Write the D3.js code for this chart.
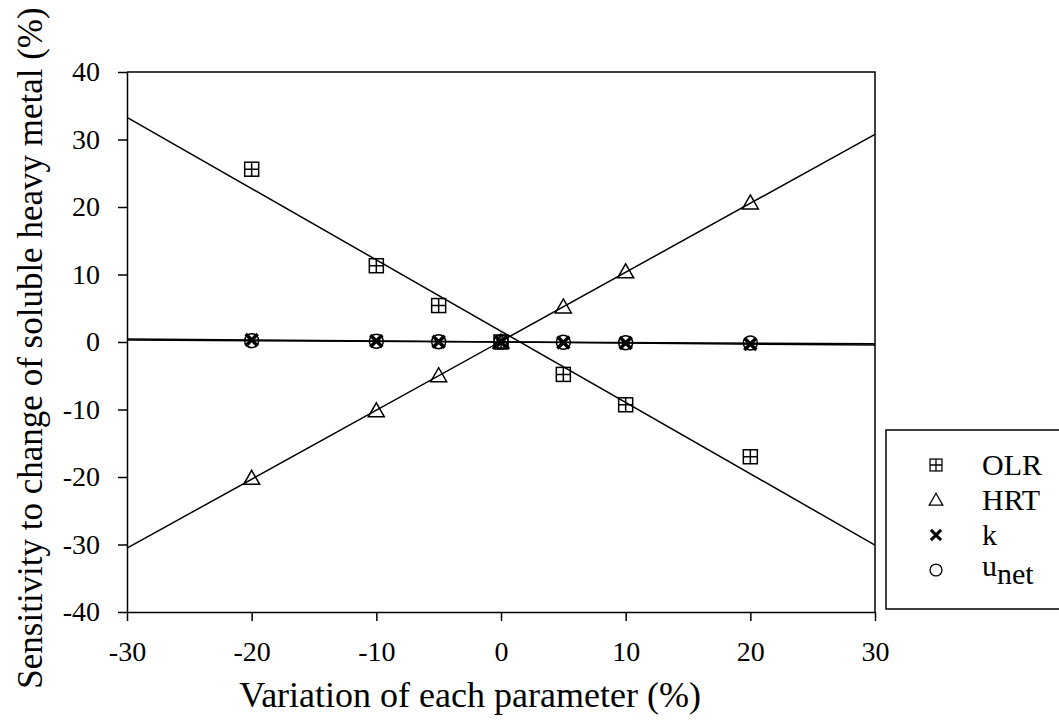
<!DOCTYPE html>
<html>
<head>
<meta charset="utf-8">
<script src="https://cdn.jsdelivr.net/npm/d3@7"></script>
<style>
  body { margin: 0; background: #fff; }
  svg { font-family: "Liberation Serif", "Times New Roman", serif; }
</style>
</head>
<body>
<svg width="1059" height="727"></svg>
<script>
// data
var variation = [-20, -10, -5, 0, 5, 10, 20];
var olr = [25.6, 11.3, 5.4, 0, -4.8, -9.3, -17.0];
var hrt = [-20.2, -10.2, -5.0, 0, 5.2, 10.4, 20.6];
var kVals = [0.3, 0.15, 0.05, 0, -0.08, -0.15, -0.3];
var unet = [0.2, 0.1, 0.05, 0, -0.05, -0.1, -0.15];
var xTicks = [-30, -20, -10, 0, 10, 20, 30];
var yTicks = [-40, -30, -20, -10, 0, 10, 20, 30, 40];

var svg = d3.select('svg');
var plotL = 127, plotR = 875, plotT = 72, plotB = 612;

var x = d3.scaleLinear().domain([-30, 30]).range([plotL, plotR]);
var y = d3.scaleLinear().domain([-40, 40]).range([plotB, plotT]);

// frame (top + right)
svg.append('path')
    .attr('d', 'M' + plotL + ',' + plotT + 'H' + plotR + 'V' + plotB)
    .attr('fill', 'none')
    .attr('stroke', '#000')
    .attr('stroke-width', 1.5);

var fmt = function (d) { return String(d); };

var xAxis = svg.append('g')
    .attr('transform', 'translate(0,' + plotB + ')')
    .call(d3.axisBottom(x).tickValues(xTicks).tickFormat(fmt).tickSize(9).tickSizeOuter(0).tickPadding(20));
var yAxis = svg.append('g')
    .attr('transform', 'translate(' + plotL + ',0)')
    .call(d3.axisLeft(y).tickValues(yTicks).tickFormat(fmt).tickSize(9).tickSizeOuter(0).tickPadding(18));

[xAxis, yAxis].forEach(function (a) {
    a.selectAll('path, line').attr('stroke', '#000').attr('stroke-width', 1.5);
    a.selectAll('text')
        .attr('fill', '#000')
        .style('font-family', '"Liberation Serif", serif')
        .style('font-size', '28px');
});

// axis titles
svg.append('text')
    .attr('x', (plotL + plotR) / 2 - 31)
    .attr('y', 707)
    .attr('text-anchor', 'middle')
    .style('font-size', '36px')
    .text('Variation of each parameter (%)');

svg.append('text')
    .attr('transform', 'translate(42,348) rotate(-90)')
    .attr('text-anchor', 'middle')
    .style('font-size', '35px')
    .text('Sensitivity to change of soluble heavy metal (%)');

// marker shapes
function drawMarker(g, type) {
    if (type == 'box') {
        g.append('rect').attr('x', -7).attr('y', -7).attr('width', 14).attr('height', 14)
            .attr('fill', 'none').attr('stroke', '#000').attr('stroke-width', 1.5);
        g.append('path').attr('d', 'M0,-7V7M-7,0H7')
            .attr('stroke', '#000').attr('stroke-width', 1.5);
    } else if (type == 'tri') {
        g.append('path').attr('d', 'M0,-8L8,6H-8Z')
            .attr('fill', 'none').attr('stroke', '#000').attr('stroke-width', 1.5);
    } else if (type == 'x') {
        g.append('path').attr('d', 'M-6,-6L6,6M6,-6L-6,6')
            .attr('stroke', '#000').attr('stroke-width', 3.5);
    } else {
        g.append('circle').attr('r', 7)
            .attr('fill', 'none').attr('stroke', '#000').attr('stroke-width', 1.5);
    }
}

var series = [
    { name: 'OLR', values: olr, marker: 'box' },
    { name: 'HRT', values: hrt, marker: 'tri' },
    { name: 'k', values: kVals, marker: 'x' },
    { name: 'unet', values: unet, marker: 'circle' }
];

// least squares fit lines over full x range
series.forEach(function (s) {
    var mx = d3.mean(variation), my = d3.mean(s.values);
    var sxy = d3.sum(variation, function (v, i) { return (v - mx) * (s.values[i] - my); });
    var sxx = d3.sum(variation, function (v) { return (v - mx) * (v - mx); });
    var b = sxy / sxx, a = my - b * mx;
    var ends = x.domain().map(function (v) { return [v, a + b * v]; });
    svg.append('path')
        .datum(ends)
        .attr('d', d3.line().x(function (d) { return x(d[0]); }).y(function (d) { return y(d[1]); }))
        .attr('fill', 'none')
        .attr('stroke', '#000')
        .attr('stroke-width', 1.5);
});

series.forEach(function (s) {
    svg.selectAll(null)
        .data(variation)
        .enter()
        .append('g')
        .attr('transform', function (d, i) { return 'translate(' + x(d) + ',' + y(s.values[i]) + ')'; })
        .each(function () { drawMarker(d3.select(this), s.marker); });
});

// legend
var legend = svg.append('g').attr('transform', 'translate(886,430)');
legend.append('rect')
    .attr('width', 200).attr('height', 179)
    .attr('fill', '#fff').attr('stroke', '#000').attr('stroke-width', 1.5);

series.forEach(function (s, i) {
    var row = legend.append('g').attr('transform', 'translate(0,' + (35 + i * 35) + ')');
    var m = row.append('g').attr('transform', 'translate(50,0) scale(0.85)');
    drawMarker(m, s.marker);
    var t = row.append('text')
        .attr('x', 96)
        .attr('y', 10)
        .style('font-size', '30px');
    if (s.name == 'unet') {
        t.append('tspan').attr('dy', -4).text('u');
        t.append('tspan').attr('dy', 8).text('net');
    } else {
        t.text(s.name);
    }
});
</script>
</body>
</html>
